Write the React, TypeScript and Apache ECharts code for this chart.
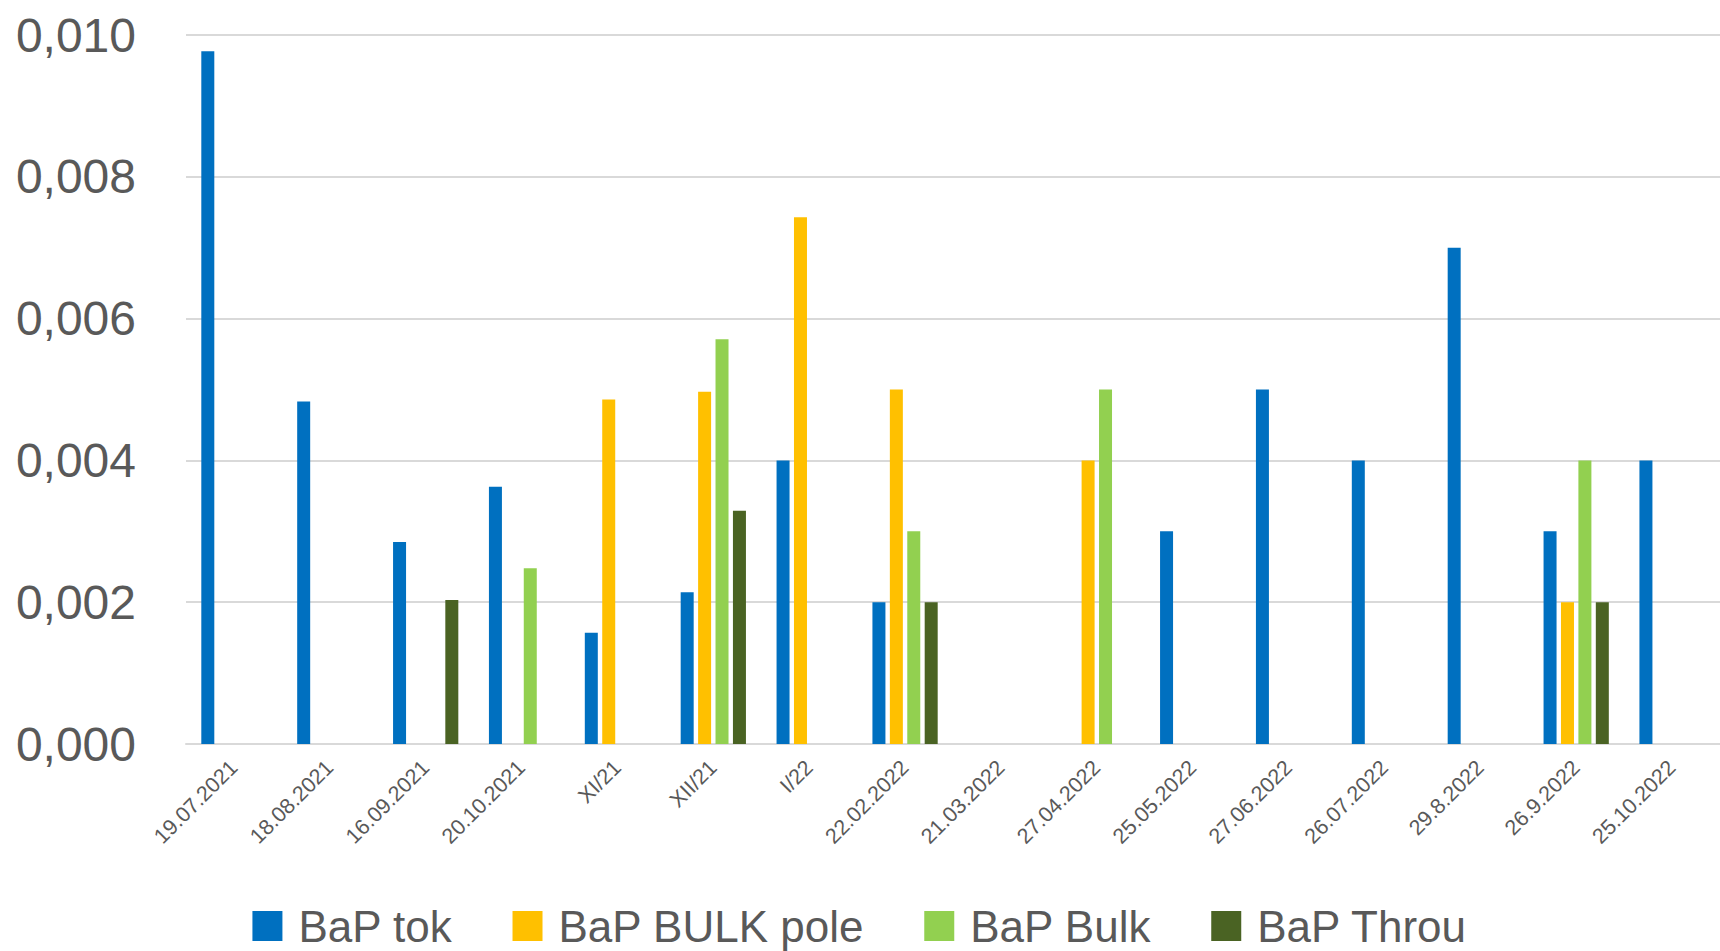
import React, { useEffect, useRef } from "react";
import * as echarts from "echarts";

const categories = [
  "19.07.2021", "18.08.2021", "16.09.2021", "20.10.2021", "XI/21", "XII/21", "I/22",
  "22.02.2022", "21.03.2022", "27.04.2022", "25.05.2022", "27.06.2022", "26.07.2022",
  "29.8.2022", "26.9.2022", "25.10.2022",
];
const bapTok = [0.00977, 0.00483, 0.00285, 0.00363, 0.00157, 0.00214, 0.004, 0.002, null, null, 0.003, 0.005, 0.004, 0.007, 0.003, 0.004];
const bapBulkPole = [null, null, null, null, 0.00486, 0.00497, 0.00743, 0.005, null, 0.004, null, null, null, null, 0.002, null];
const bapBulk = [null, null, null, 0.00248, null, 0.00571, null, 0.003, null, 0.005, null, null, null, null, 0.004, null];
const bapThrou = [null, null, 0.00203, null, null, 0.00329, null, 0.002, null, null, null, null, null, null, 0.002, null];
const yTicks = [0, 0.002, 0.004, 0.006, 0.008, 0.01];

const seriesDefs = [
  { name: "BaP tok", data: bapTok, color: "#0070C0" },
  { name: "BaP BULK pole", data: bapBulkPole, color: "#FFC000" },
  { name: "BaP Bulk", data: bapBulk, color: "#92D050" },
  { name: "BaP Throu", data: bapThrou, color: "#4A6323" },
];

const FONT = "'Liberation Sans', Arial, sans-serif";

export default function App() {
  const ref = useRef<HTMLDivElement>(null);
  useEffect(() => {
    if (!ref.current) return;
    const chart = echarts.init(ref.current, null, { renderer: "svg" });
    chart.setOption({
      animation: false,
      backgroundColor: "#ffffff",
      grid: { left: 186, right: -5, top: 35, bottom: 951 - 744, containLabel: false },
      legend: {
        data: seriesDefs.map((s) => s.name),
        left: "center",
        top: 904,
        padding: 0,
        itemWidth: 30,
        itemHeight: 30,
        itemGap: 60,
        icon: "rect",
        textStyle: {
          fontFamily: FONT,
          fontSize: 44,
          lineHeight: 44,
          color: "#595959",
          padding: [0, 0, 0, 11],
        },
      },
      xAxis: {
        type: "category",
        data: categories,
        axisTick: { show: false },
        axisLine: { lineStyle: { color: "#D9D9D9", width: 2 } },
        axisLabel: {
          rotate: 45,
          interval: 0,
          margin: 20,
          fontFamily: FONT,
          fontSize: 21.5,
          color: "#595959",
        },
      },
      yAxis: {
        type: "value",
        min: 0,
        max: 0.01,
        interval: 0.002,
        axisLine: { show: false },
        axisTick: { show: false },
        splitLine: { lineStyle: { color: "#D9D9D9", width: 2 } },
        axisLabel: {
          margin: 50,
          fontFamily: FONT,
          fontSize: 48,
          color: "#595959",
          formatter: (v: number) => {
            const t = yTicks.find((x) => Math.abs(x - v) < 1e-9);
            return (t !== undefined ? t : v).toFixed(3).replace(".", ",");
          },
        },
      },
      series: seriesDefs.map((s) => ({
        name: s.name,
        type: "bar",
        data: s.data,
        barWidth: 13,
        barGap: "34%",
        itemStyle: { color: s.color },
      })),
    });
    return () => chart.dispose();
  }, []);
  return (
    <div
      ref={ref}
      style={{ position: "fixed", left: 0, top: 0, width: 1720, height: 951, background: "#fff" }}
    />
  );
}
